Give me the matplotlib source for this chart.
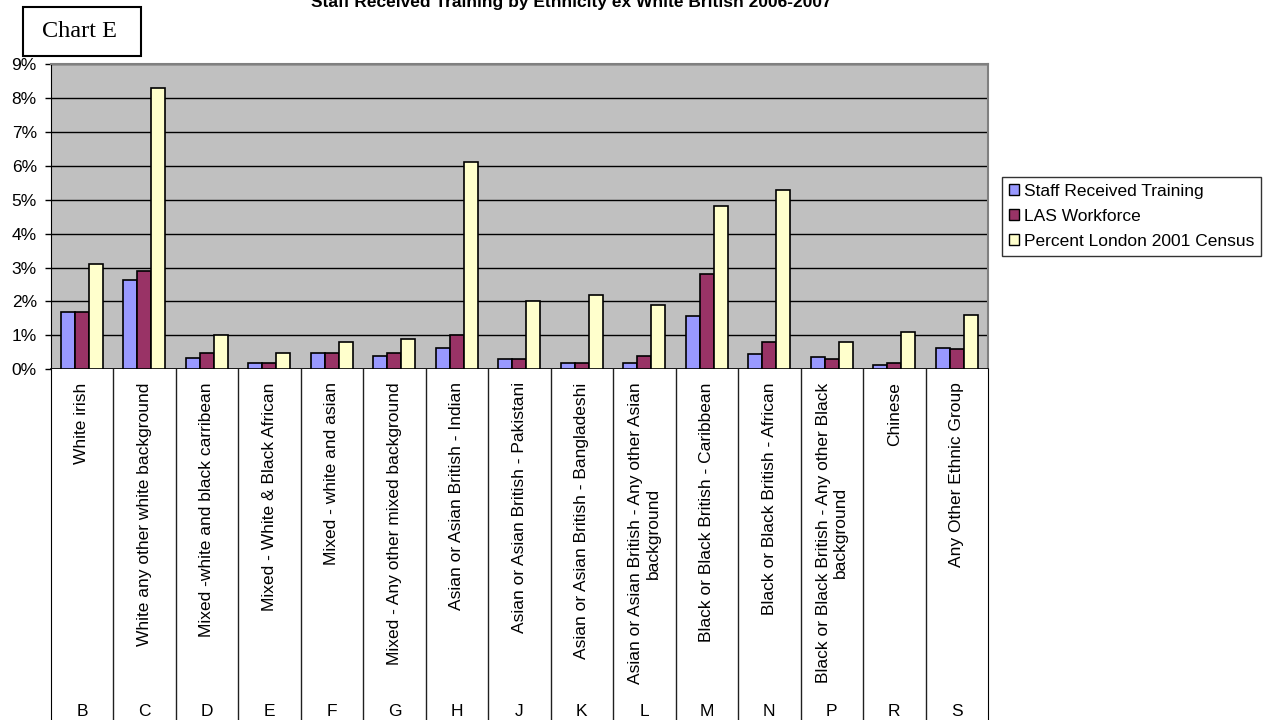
import numpy as np
import matplotlib
matplotlib.use("Agg")
import matplotlib.pyplot as plt
from matplotlib.patches import Patch, Rectangle
from matplotlib.ticker import FuncFormatter

plt.rcParams['font.family'] = ['Liberation Sans', 'DejaVu Sans']

# Ethnic group codes and names
codes = ['B', 'C', 'D', 'E', 'F', 'G', 'H', 'J', 'K', 'L', 'M', 'N', 'P', 'R', 'S']
groups = [
    'White irish',
    'White any other white background',
    'Mixed -white and black carribean',
    'Mixed - White & Black African',
    'Mixed - white and asian',
    'Mixed - Any other mixed background',
    'Asian or Asian British - Indian',
    'Asian or Asian British - Pakistani',
    'Asian or Asian British - Bangladeshi',
    'Asian or Asian British - Any other Asian\nbackground',
    'Black or Black British - Caribbean',
    'Black or Black British - African',
    'Black or Black British - Any other Black\nbackground',
    'Chinese',
    'Any Other Ethnic Group',
]

# Percentages per group
staff_trained = [1.7, 2.64, 0.32, 0.19, 0.48, 0.40, 0.64, 0.29, 0.19, 0.19, 1.58, 0.44, 0.36, 0.12, 0.64]
las_workforce = [1.7, 2.9, 0.49, 0.19, 0.49, 0.49, 1.0, 0.29, 0.19, 0.38, 2.8, 0.8, 0.29, 0.19, 0.59]
london_census = [3.1, 8.3, 1.0, 0.49, 0.81, 0.89, 6.1, 2.0, 2.2, 1.9, 4.8, 5.3, 0.81, 1.1, 1.59]

series = [
    ('Staff Received Training', staff_trained, '#9999FF'),
    ('LAS Workforce', las_workforce, '#993366'),
    ('Percent London 2001 Census', london_census, '#FFFFCC'),
]

W, H = 1272, 720
fig = plt.figure(figsize=(W / 100, H / 100), dpi=100)

left, right, top, bottom = 50.7, 988, 64, 369.3
ax = fig.add_axes([left / W, 1 - bottom / H, (right - left) / W, (bottom - top) / H])
ax.set_facecolor('#C0C0C0')

x = np.arange(len(codes))
bw = 0.224
for k, (name, vals, col) in enumerate(series):
    ax.bar(x + (k - 1) * bw, vals, width=bw, color=col, edgecolor='black',
           linewidth=1.2, label=name, zorder=3)

ax.set_xlim(-0.5, len(codes) - 0.5)
ax.set_ylim(0, 9)
ax.set_yticks(range(10))
ax.yaxis.set_major_formatter(FuncFormatter(lambda v, p: f'{v:.0f}%'))
ax.tick_params(axis='y', direction='out', length=4, width=1, pad=6, labelsize=12.5)
ax.set_xticks([])
ax.yaxis.grid(True, color='black', linewidth=1, zorder=1)
ax.set_axisbelow(True)
for s in ('top', 'right'):
    ax.spines[s].set_color('#808080')
    ax.spines[s].set_linewidth(1.5)
ax.spines['left'].set_color('black')
ax.spines['bottom'].set_color('black')
ax.spines['bottom'].set_linewidth(1.2)

# category table underneath the plot area
ax2 = fig.add_axes([left / W, 0, (right - left) / W, (H - bottom) / H])
ax2.set_xlim(-0.5, len(codes) - 0.5)
ax2.set_ylim(0, 1)
ax2.set_xticks([])
ax2.set_yticks([])
ax2.spines['top'].set_visible(False)
ax2.spines['bottom'].set_visible(False)
for b in np.arange(0.5, len(codes) - 0.5, 1.0):
    ax2.axvline(b, color='#202020', linewidth=1)

tbl_h = H - bottom
for i, (code, name) in enumerate(zip(codes, groups)):
    ax2.text(i, 1 - 13 / tbl_h, name, rotation=90, ha='center', va='top',
             multialignment='center', fontsize=12.5)
    ax2.text(i, 9 / tbl_h, code, ha='center', va='center', fontsize=12.5)

fig.text(571 / W, 1 - 7 / H, 'Staff Received Training by Ethnicity ex White British 2006-2007',
         ha='center', va='baseline', fontsize=12.5, fontweight='bold')

# "Chart E" box
fig.patches.append(Rectangle((22.7 / W, 1 - 56 / H), 118 / W, 48.7 / H,
                             transform=fig.transFigure, facecolor='white',
                             edgecolor='black', linewidth=1.5))
fig.text(79 / W, 1 - 31.7 / H, 'Chart E', ha='center', va='center',
         fontsize=17.5, family='Liberation Serif')

handles = [Patch(facecolor=c, edgecolor='black', linewidth=1) for _, _, c in series]
leg = fig.legend(handles, [n for n, _, _ in series], loc='upper left',
                 bbox_to_anchor=(1002 / W, 1 - 177 / H), fontsize=12.5,
                 frameon=True, fancybox=False, handlelength=0.6, handleheight=0.6,
                 handletextpad=0.25, labelspacing=0.58, borderpad=0.4,
                 borderaxespad=0)
leg.get_frame().set_edgecolor('black')
leg.get_frame().set_linewidth(1)

fig.savefig('out.png', dpi=100)
